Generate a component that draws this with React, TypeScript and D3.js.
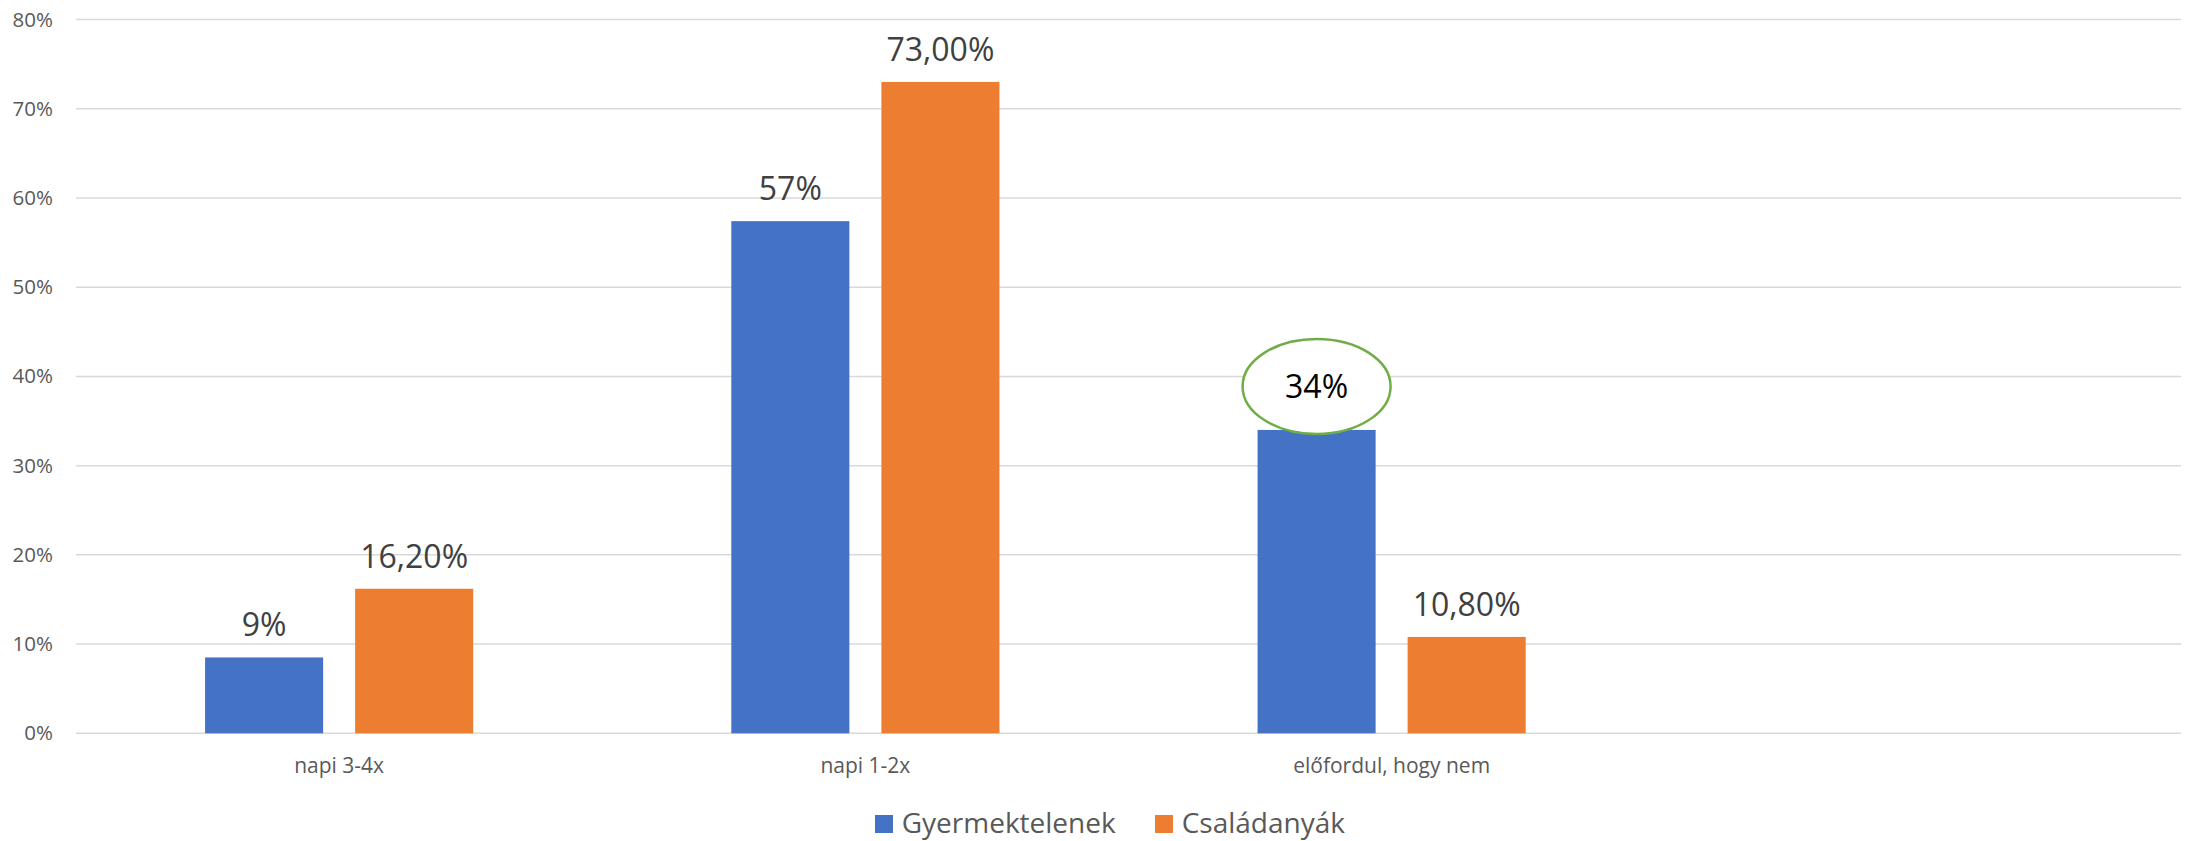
import React from 'react';
import * as d3 from 'd3';

// categories (the 4th slot is empty in the original chart)
const categories = ['napi 3-4x', 'napi 1-2x', 'előfordul, hogy nem', ''];
const seriesNames = ['Gyermektelenek', 'Családanyák'];
const seriesColors = ['#4472C4', '#ED7D31'];

const gyermektelenek = [0.085, 0.574, 0.34, null];
const csaladanyak = [0.162, 0.73, 0.108, null];

const gyermektelenekLabels = ['9%', '57%', '34%', ''];
const csaladanyakLabels = ['16,20%', '73,00%', '10,80%', ''];

const yTicks = [0, 0.1, 0.2, 0.3, 0.4, 0.5, 0.6, 0.7, 0.8];

// circled label: series 0, category 2
const highlight = { series: 0, category: 2 };

const width = 2192;
const height = 841;
const font = '"Open Sans", "Noto Sans", sans-serif';

const App: React.FC = () => {
  const margin = { top: 19.5, right: 11, bottom: 107.7, left: 76 };

  const x0 = d3.scaleBand<string>()
    .domain(categories.map((c, i) => String(i)))
    .range([margin.left, width - margin.right])
    .padding(0);

  const x1 = d3.scaleBand<string>()
    .domain(seriesNames)
    .range([0, x0.bandwidth()])
    .paddingInner(0.2133)
    .paddingOuter(0.86);

  const y = d3.scaleLinear()
    .domain([0, 0.8])
    .range([height - margin.bottom, margin.top]);

  const fmt = d3.format('.0%');
  const series = [gyermektelenek, csaladanyak];
  const labels = [gyermektelenekLabels, csaladanyakLabels];

  return (
    <svg
      width={width}
      height={height}
      style={{ position: 'absolute', left: 0, top: 0, background: '#fff' }}
      fontFamily={font}
    >
      {/* gridlines + y axis labels */}
      {yTicks.map(t => (
        <g key={t}>
          <line
            x1={margin.left}
            x2={width - margin.right}
            y1={y(t)}
            y2={y(t)}
            stroke="#d9d9d9"
            strokeWidth={1.5}
          />
          <text
            x={53}
            y={y(t) + 7}
            textAnchor="end"
            fontSize={20.5}
            fill="#595959"
          >
            {fmt(t)}
          </text>
        </g>
      ))}

      {/* bars */}
      {categories.map((c, ci) => (
        <g key={ci} transform={`translate(${x0(String(ci))},0)`}>
          {series.map((s, si) => {
            const v = s[ci];
            if (v == null) return null;
            const bx = x1(seriesNames[si])!;
            const bw = x1.bandwidth();
            const isHl = highlight.series === si && highlight.category === ci;
            return (
              <g key={si}>
                <rect
                  x={bx}
                  y={y(v)}
                  width={bw}
                  height={y(0) - y(v)}
                  fill={seriesColors[si]}
                />
                {isHl ? (
                  <g>
                    <ellipse
                      cx={bx + bw / 2}
                      cy={y(v) - 43.5}
                      rx={74}
                      ry={47.5}
                      fill="#fff"
                      stroke="#70AD47"
                      strokeWidth={2.5}
                    />
                    <text
                      x={bx + bw / 2}
                      y={y(v) - 31.5}
                      textAnchor="middle"
                      fontSize={32}
                      fill="#000"
                    >
                      {labels[si][ci]}
                    </text>
                  </g>
                ) : (
                  <text
                    x={bx + bw / 2}
                    y={y(v) - 21}
                    textAnchor="middle"
                    fontSize={32}
                    fill="#404040"
                  >
                    {labels[si][ci]}
                  </text>
                )}
              </g>
            );
          })}
          <text
            x={x0.bandwidth() / 2}
            y={772.7}
            textAnchor="middle"
            fontSize={21}
            fill="#595959"
          >
            {c}
          </text>
        </g>
      ))}

      {/* legend */}
      {seriesNames.map((name, i) => {
        const lx = [875, 1155][i];
        return (
          <g key={name}>
            <rect x={lx} y={815} width={18} height={18} fill={seriesColors[i]} />
            <text x={lx + 26.7} y={832.7} fontSize={28} fill="#595959">
              {name}
            </text>
          </g>
        );
      })}
    </svg>
  );
};

export default App;
